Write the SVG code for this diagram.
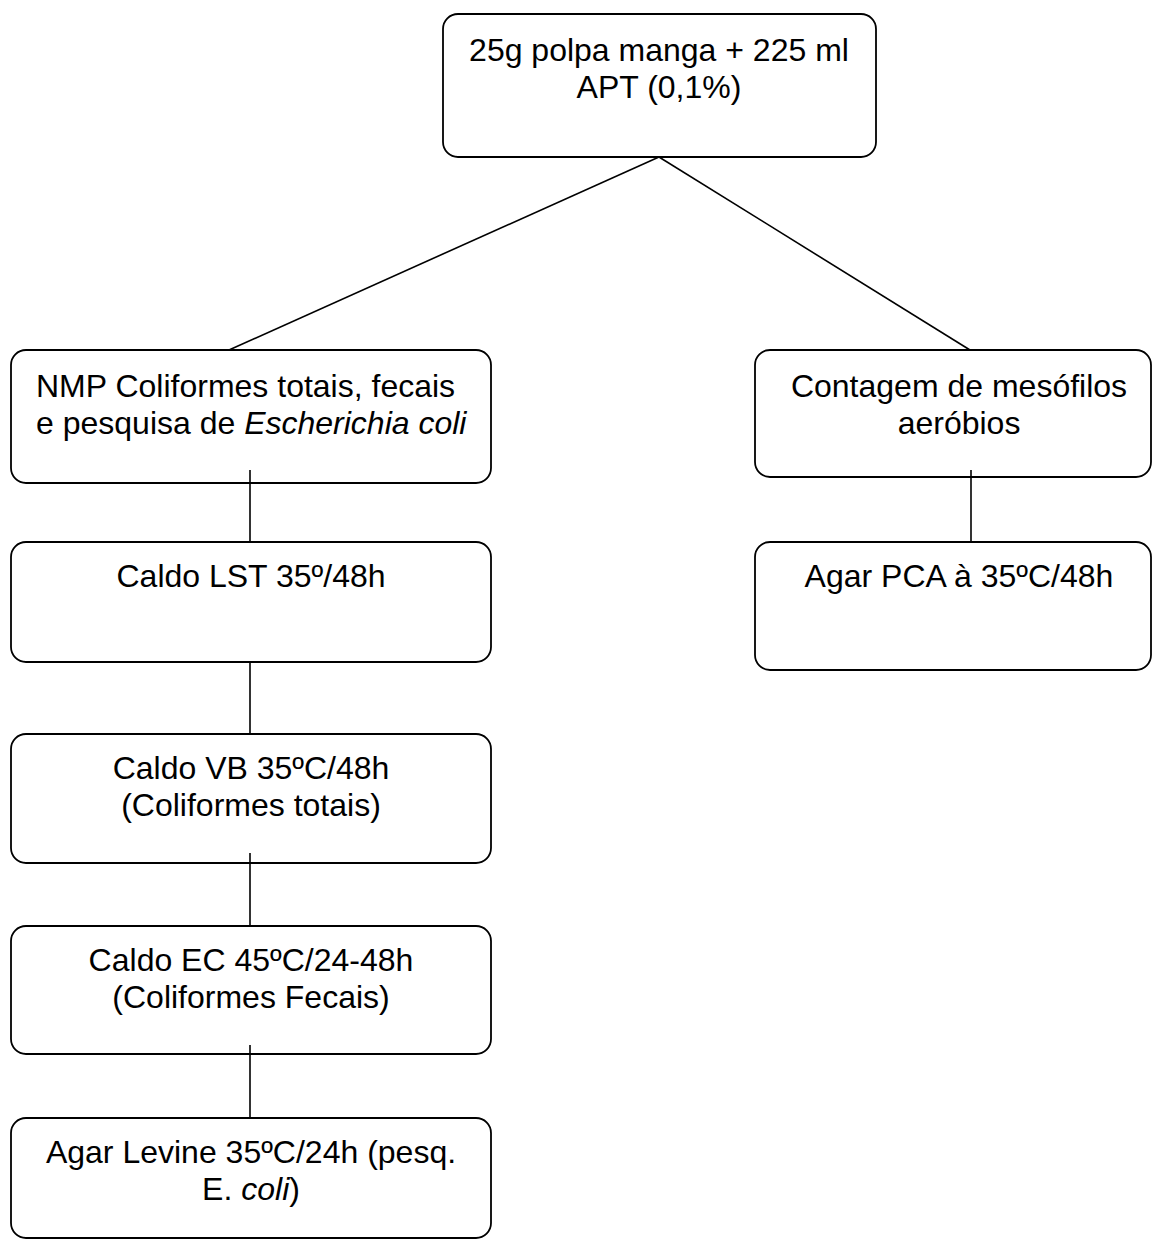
<svg xmlns="http://www.w3.org/2000/svg" width="1152" height="1240" viewBox="0 0 1152 1240">
<style>
.box{fill:#fff;stroke:#000;stroke-width:1.8}
.ln{stroke:#000;stroke-width:1.6;fill:none}
text{font-family:"Liberation Sans",Arial,sans-serif;font-size:32px;fill:#000}
.c{text-anchor:middle}
.i{font-style:italic}
</style>
<rect width="1152" height="1240" fill="#fff"/>
<g id="top">
<rect class="box" x="443" y="14" width="433" height="143" rx="15"/>
<text class="c" x="659" y="61">25g polpa manga + 225 ml</text>
<text class="c" x="659" y="98">APT (0,1%)</text>
</g>
<g id="nmp">
<rect class="box" x="11" y="350" width="480" height="133" rx="15"/>
<text x="36" y="397">NMP Coliformes totais, fecais</text>
<text x="36" y="434">e pesquisa de <tspan class="i">Escherichia coli</tspan></text>
</g>
<g id="lst">
<rect class="box" x="11" y="542" width="480" height="120" rx="15"/>
<text class="c" x="251" y="587">Caldo LST 35º/48h</text>
</g>
<g id="vb">
<rect class="box" x="11" y="734" width="480" height="129" rx="15"/>
<text class="c" x="251" y="779">Caldo VB 35ºC/48h</text>
<text class="c" x="251" y="816">(Coliformes totais)</text>
</g>
<g id="ec">
<rect class="box" x="11" y="926" width="480" height="128" rx="15"/>
<text class="c" x="251" y="971">Caldo EC 45ºC/24-48h</text>
<text class="c" x="251" y="1008">(Coliformes Fecais)</text>
</g>
<g id="levine">
<rect class="box" x="11" y="1118" width="480" height="120" rx="15"/>
<text class="c" x="251" y="1163">Agar Levine 35ºC/24h (pesq.</text>
<text class="c" x="251" y="1200">E. <tspan class="i">coli</tspan>)</text>
</g>
<g id="contagem">
<rect class="box" x="755" y="350" width="396" height="127" rx="15"/>
<text class="c" x="959" y="397">Contagem de mesófilos</text>
<text class="c" x="959" y="434">aeróbios</text>
</g>
<g id="pca">
<rect class="box" x="755" y="542" width="396" height="128" rx="15"/>
<text class="c" x="959" y="587">Agar PCA à 35ºC/48h</text>
</g>
<g id="connectors">
<line class="ln" x1="659" y1="157" x2="229" y2="350"/>
<line class="ln" x1="659" y1="157" x2="970" y2="350"/>
<line class="ln" x1="250" y1="470" x2="250" y2="542"/>
<line class="ln" x1="250" y1="662" x2="250" y2="734"/>
<line class="ln" x1="250" y1="853" x2="250" y2="926"/>
<line class="ln" x1="250" y1="1045" x2="250" y2="1118"/>
<line class="ln" x1="971" y1="470" x2="971" y2="542"/>
</g>
</svg>
